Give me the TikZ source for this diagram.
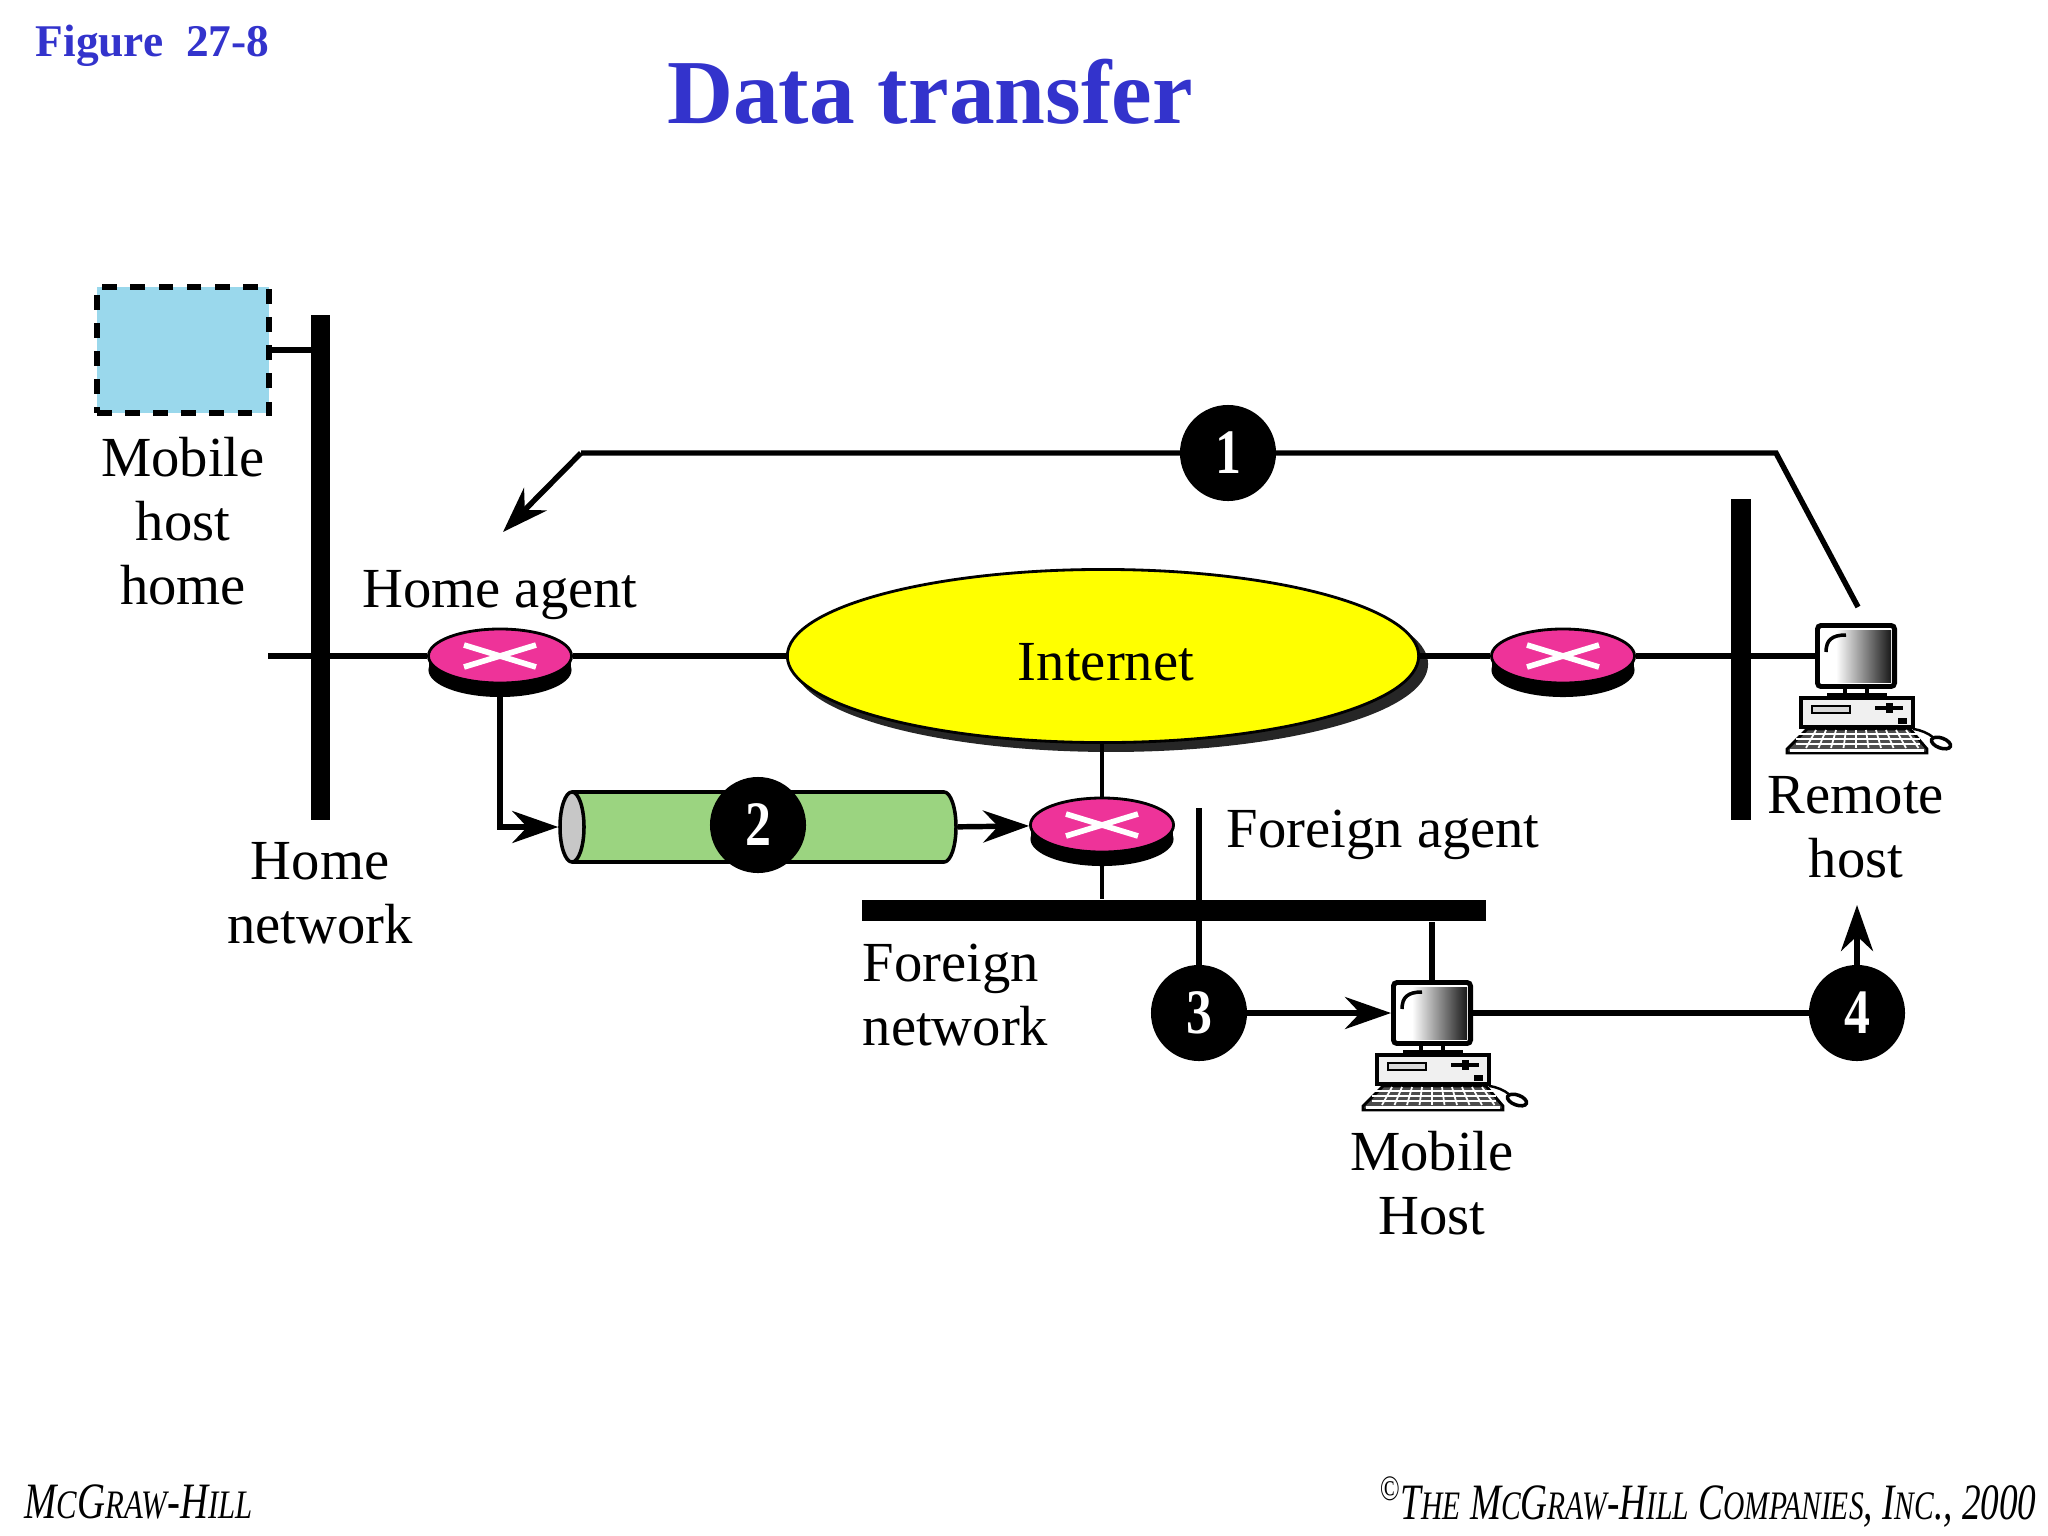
\documentclass[tikz,border=0pt]{standalone}
\usepackage{fontspec}
\setmainfont{Liberation Serif}
\newfontfamily\stepfont[FakeStretch=0.82]{Liberation Serif}
\usetikzlibrary{arrows.meta}
\usetikzlibrary{shapes.geometric}
\usetikzlibrary{shadows}
\definecolor{titleblue}{HTML}{3333CC}
\definecolor{routerpink}{HTML}{EE3399}
\definecolor{tunnelgreen}{HTML}{9BD480}
\definecolor{hostcyan}{HTML}{9AD8EC}
\definecolor{inetyellow}{HTML}{FFFF00}
\newcommand{\smc}[1]{{\fontsize{11.5}{11.5}\selectfont\MakeUppercase{#1}}}
\tikzset{
	flowline/.style={line width=1.55pt},
	thinline/.style={line width=1.3pt},
	flowarrow/.style={flowline, -{Stealth[length=.46cm,width=.32cm,inset=.15cm]}},
	barbox/.style={fill=black, inner sep=0pt},
	stepdot/.style={circle, fill=black, text=white, inner sep=0pt, minimum size=.96cm, font=\fontsize{18}{18}\selectfont\stepfont\bfseries},
	lbl/.style={font=\fontsize{16.1}{18.2}\selectfont, align=center, inner sep=0pt},
	footer/.style={font=\fontsize{14.5}{14.5}\selectfont\itshape, inner sep=0pt, transform shape},
	routertop/.style={ellipse, draw=black, line width=.8pt, fill=routerpink, inner sep=0pt, minimum width=1.43cm, minimum height=.54cm},
	tunnelcap/.style={ellipse, draw=black, line width=1pt, inner sep=0pt, minimum width=.24cm, minimum height=.7cm},
	pics/router/.style={code={
		\fill[black] (-71,0) rectangle (71,14);
		\node[ellipse, fill=black, inner sep=0pt, minimum width=1.43cm, minimum height=.54cm] at (0,14) {};
		\node[routertop] (-top) at (0,0) {};
		\draw[white, line width=1.6pt] (-36,-11) -- (36,11);
		\draw[white, line width=1.6pt] (-36,11) -- (36,-11);
	}},
	pics/computer/.style={code={
		\node[draw=black, line width=1.4pt, fill=white, rounded corners=1pt, inner sep=0pt, minimum width=.77cm, minimum height=.61cm] (-mon) at (0,0) {};
		\shade[left color=white, right color=black!90] (-20,-26) rectangle (35,26);
		\draw[line width=1pt] (-30,-4) .. controls (-30,-16) and (-24,-21) .. (-10,-21);
		\draw[line width=1pt] (-11,31) -- (-11,37) (11,31) -- (11,37);
		\fill[black] (-29,37) rectangle (31,43);
		\draw[line width=1.2pt, fill=black!6] (-55,42) rectangle (57,71);
		\draw[line width=.8pt, fill=black!15] (-44,50) rectangle (-6,57);
		\draw[line width=1.2pt] (19,52) -- (47,52);
		\fill[black] (30,47) rectangle (37,57);
		\fill[black] (42,62) rectangle (51,68);
		\fill[black!70, draw=black, line width=.8pt] (-49,73) -- (54,73) -- (71,93) -- (71,97) -- (-69,97) -- (-69,93) -- cycle;
		\foreach \row in {78,83,88} {
			\draw[white, line width=.5pt] (-60,\row) -- (64,\row);
		}
		\foreach \col in {-40,-30,...,50} {
			\draw[white, line width=.5pt] (\col,74) -- (\col*1.25,92);
		}
		\draw[white, line width=.9pt] (-66,94.5) -- (68,94.5);
		\draw[line width=.7pt] (57,73) .. controls (65,74) and (72,77) .. (78,82);
		\node[ellipse, draw=black, line width=1pt, fill=white, inner sep=0pt, minimum width=.2cm, minimum height=.1cm, rotate=-20] at (85,87) {};
	}},
}
\begin{document}
\begin{tikzpicture}[x=.01cm, y=-.01cm]
	\useasboundingbox (0,0) rectangle (2048,1536);
	\node[text=titleblue, font=\fontsize{12.9}{12.9}\selectfont\bfseries, inner sep=0pt, anchor=west] (figlabel) at (35,46) {Figure\ \ 27-8};
	\node[text=titleblue, font=\fontsize{26}{26}\selectfont\bfseries, inner sep=0pt] (title) at (930,92) {Data transfer};

	\node[draw=black, dashed, dash pattern=on 4.2pt off 3.8pt, line width=1.5pt, fill=hostcyan, inner sep=0pt, minimum width=1.72cm, minimum height=1.26cm] (mhbox) at (183,350) {};
	\node[barbox, minimum width=.19cm, minimum height=5.05cm] (homebar) at (320.5,567.5) {};
	\node[barbox, minimum width=.2cm, minimum height=3.21cm] (remotebar) at (1741,659.5) {};
	\node[barbox, minimum width=6.24cm, minimum height=.21cm] (foreignbar) at (1174,910.5) {};

	\coordinate (hstart) at (268,656);
	\coordinate (rhcorner) at (1776,453);
	\coordinate (hacorner) at (581,453);
	\coordinate (rhstart) at (1858,607);
	\coordinate (hatip) at (503,532);
	\coordinate (threestart) at (1199,808);
	\coordinate (threeend) at (1199,1013);
	\coordinate (fourfoot) at (1857,1013);
	\coordinate (fourtip) at (1857,905);

	\node[ellipse, draw=black, line width=.8pt, fill=inetyellow, inner sep=0pt, minimum width=6.31cm, minimum height=1.73cm, copy shadow={shadow xshift=.08cm, shadow yshift=-.08cm, fill=black!85, draw=black!85}] (inet) at (1103,656) {};
	\node[lbl] (inetlabel) at (1106,662) {Internet};

	\pic (ha) at (500,656) {router};
	\pic (rr) at (1563,656) {router};
	\pic (fa) at (1102,825) {router};
	\pic (rh) at (1856,656) {computer};
	\pic (mh) at (1432,1013) {computer};

	\node[tunnelcap, fill=tunnelgreen] (tunnelend) at (944,827) {};
	\fill[tunnelgreen] (572,792) rectangle (944,862);
	\draw[line width=1pt] (572,792) -- (944,792) (572,862) -- (944,862);
	\node[tunnelcap, fill=black!22] (tunnel) at (572,827) {};

	\draw[flowline] (mhbox) -- (mhbox -| homebar);
	\draw[flowline] (hstart) -- (ha-top);
	\draw[flowline] (ha-top) -- (inet);
	\draw[flowline] (inet) -- (rr-top);
	\draw[flowline] (rr-top) -- (rh-mon);
	\draw[thinline] (inet.south -| fa-top) -- (fa-top);
	\draw[thinline] (fa-top) -- (foreignbar.north -| fa-top);
	\draw[flowarrow] (ha-top) |- (tunnel);
	\draw[flowarrow] (tunnelend) -- (fa-top);
	\draw[flowline] (rhstart) -- (rhcorner) -- (hacorner);
	\draw[flowarrow] (hacorner) -- (hatip);
	\draw[flowline] (threestart) -- (threeend);
	\draw[flowline] (mh-mon) -- (foreignbar.south -| mh-mon);
	\draw[flowline] (mh-mon) -- (fourfoot);
	\draw[flowarrow] (fourfoot) -- (fourtip);

	\node[stepdot] (one) at (1228,453) {1};
	\node[stepdot] (two) at (758,825) {2};
	\node[stepdot] (three) at (1199,1013) {3};
	\node[stepdot] (four) at (1857,1013) {4};
	\draw[flowarrow, shorten <=-2pt] (three) -- (mh-mon);

	\node[lbl] (mhlabel) at (183,521) {Mobile\\host\\home};
	\node[lbl] (halabel) at (500,595) {Home agent};
	\node[lbl] (hnlabel) at (320,893) {Home\\network};
	\node[lbl, anchor=west] (falabel) at (1226,835) {Foreign agent};
	\node[lbl, anchor=west, align=left] (fnlabel) at (862,995) {Foreign\\network};
	\node[lbl] (rhlabel) at (1856,827) {Remote\\host};
	\node[lbl] (mhostlabel) at (1432,1183) {Mobile\\Host};

	\node[footer, anchor=west, xscale=.76] (leftfoot) at (24,1502) {M\smc{c}G\smc{raw}-H\smc{ill}};
	\node[footer, anchor=east, xscale=.73] (rightfoot) at (2037,1502) {\textsuperscript{©}T\smc{he} M\smc{c}G\smc{raw}-H\smc{ill} C\smc{ompanies}, I\smc{nc}., 2000};
\end{tikzpicture}
\end{document}
